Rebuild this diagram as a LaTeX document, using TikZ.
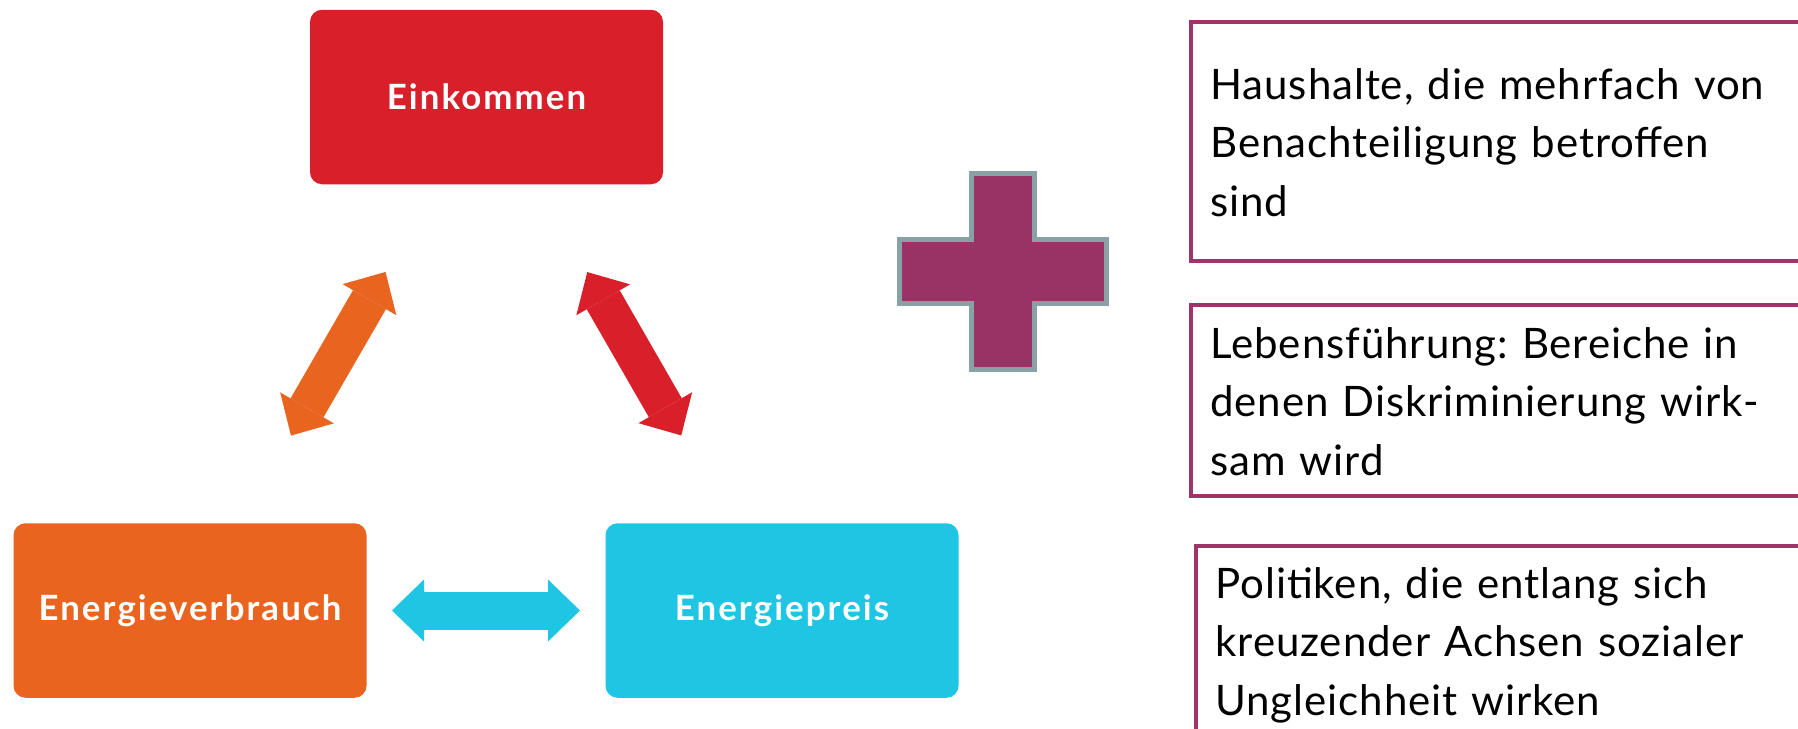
\documentclass[tikz,border=0pt]{standalone}
\usepackage{fontspec}
\setmainfont{Lato}
\usepackage{graphicx}
\usetikzlibrary{arrows.meta}
\definecolor{cred}{RGB}{217,31,42}
\definecolor{corange}{RGB}{232,100,31}
\definecolor{ccyan}{RGB}{30,198,227}
\definecolor{cplum}{RGB}{153,51,102}
\definecolor{cgray}{RGB}{135,161,164}
\definecolor{cframe}{RGB}{158,52,104}
\begin{document}
\begin{tikzpicture}[x=0.5pt,y=-0.5pt,
 factor/.style={rounded corners=6pt, minimum width=176.5pt, minimum height=87.25pt, inner sep=0pt, text=white, font=\fontsize{17.4pt}{20pt}\selectfont\bfseries\addfontfeatures{LetterSpace=6}},
 link/.style={line width=19pt, >={Triangle[width=31pt,length=16pt,line width=0pt]}, <->, shorten <=101pt, shorten >=101pt},
 boxframe/.style={draw=cframe, line width=2pt},
 boxtext/.style={anchor=north west, inner sep=0pt, text width=300pt, align=left, font=\fontsize{21pt}{29.25pt}\selectfont\addfontfeatures{LetterSpace=2.2}\frenchspacing, text=black}
]
\useasboundingbox (0,0) rectangle (1798,728);
% factor boxes
\node[factor, fill=cred] (ein) at (486.5,97) {Einkommen};
\node[factor, fill=corange] (ev) at (190,610.5) {Energieverbrauch};
\node[factor, fill=ccyan] (ep) at (782,610.5) {Energiepreis};
% double arrows
\draw[link, draw=corange] (ein.center) -- (ev.center);
\draw[link, draw=cred] (ein.center) -- (ep.center);
\draw[link, draw=ccyan] (ev.center) -- (ep.center);
% plus sign
\filldraw[fill=cplum, draw=cgray, line width=2.5pt] (971.5,173.5) -- (1034.5,173.5) -- (1034.5,239.5) -- (1106.5,239.5) -- (1106.5,303.5) -- (1034.5,303.5) -- (1034.5,369.5) -- (971.5,369.5) -- (971.5,303.5) -- (899.5,303.5) -- (899.5,239.5) -- (971.5,239.5) -- cycle;
% frames
\draw[boxframe] (1802,21.5) -- (1190.5,21.5) -- (1190.5,261) -- (1802,261);
\draw[boxframe] (1802,304.5) -- (1190.5,304.5) -- (1190.5,496) -- (1802,496);
\draw[boxframe] (1802,545.5) -- (1195.5,545.5) -- (1195.5,740);
% texts
\node[boxtext] (t1) at (1210,59) {\rule{0pt}{20pt}Haushalte, die mehrfach von\\Benachteiligung betroffen\\sind};
\node[boxtext] (t2) at (1210,318) {\rule{0pt}{20pt}Lebensführung: Bereiche in\\denen Diskriminierung wirk-\\sam wird};
\node[boxtext] (t3) at (1215,558) {\rule{0pt}{20pt}Politiken, die entlang sich\\kreuzender Achsen sozialer\\Ungleichheit wirken};
\end{tikzpicture}
\end{document}
